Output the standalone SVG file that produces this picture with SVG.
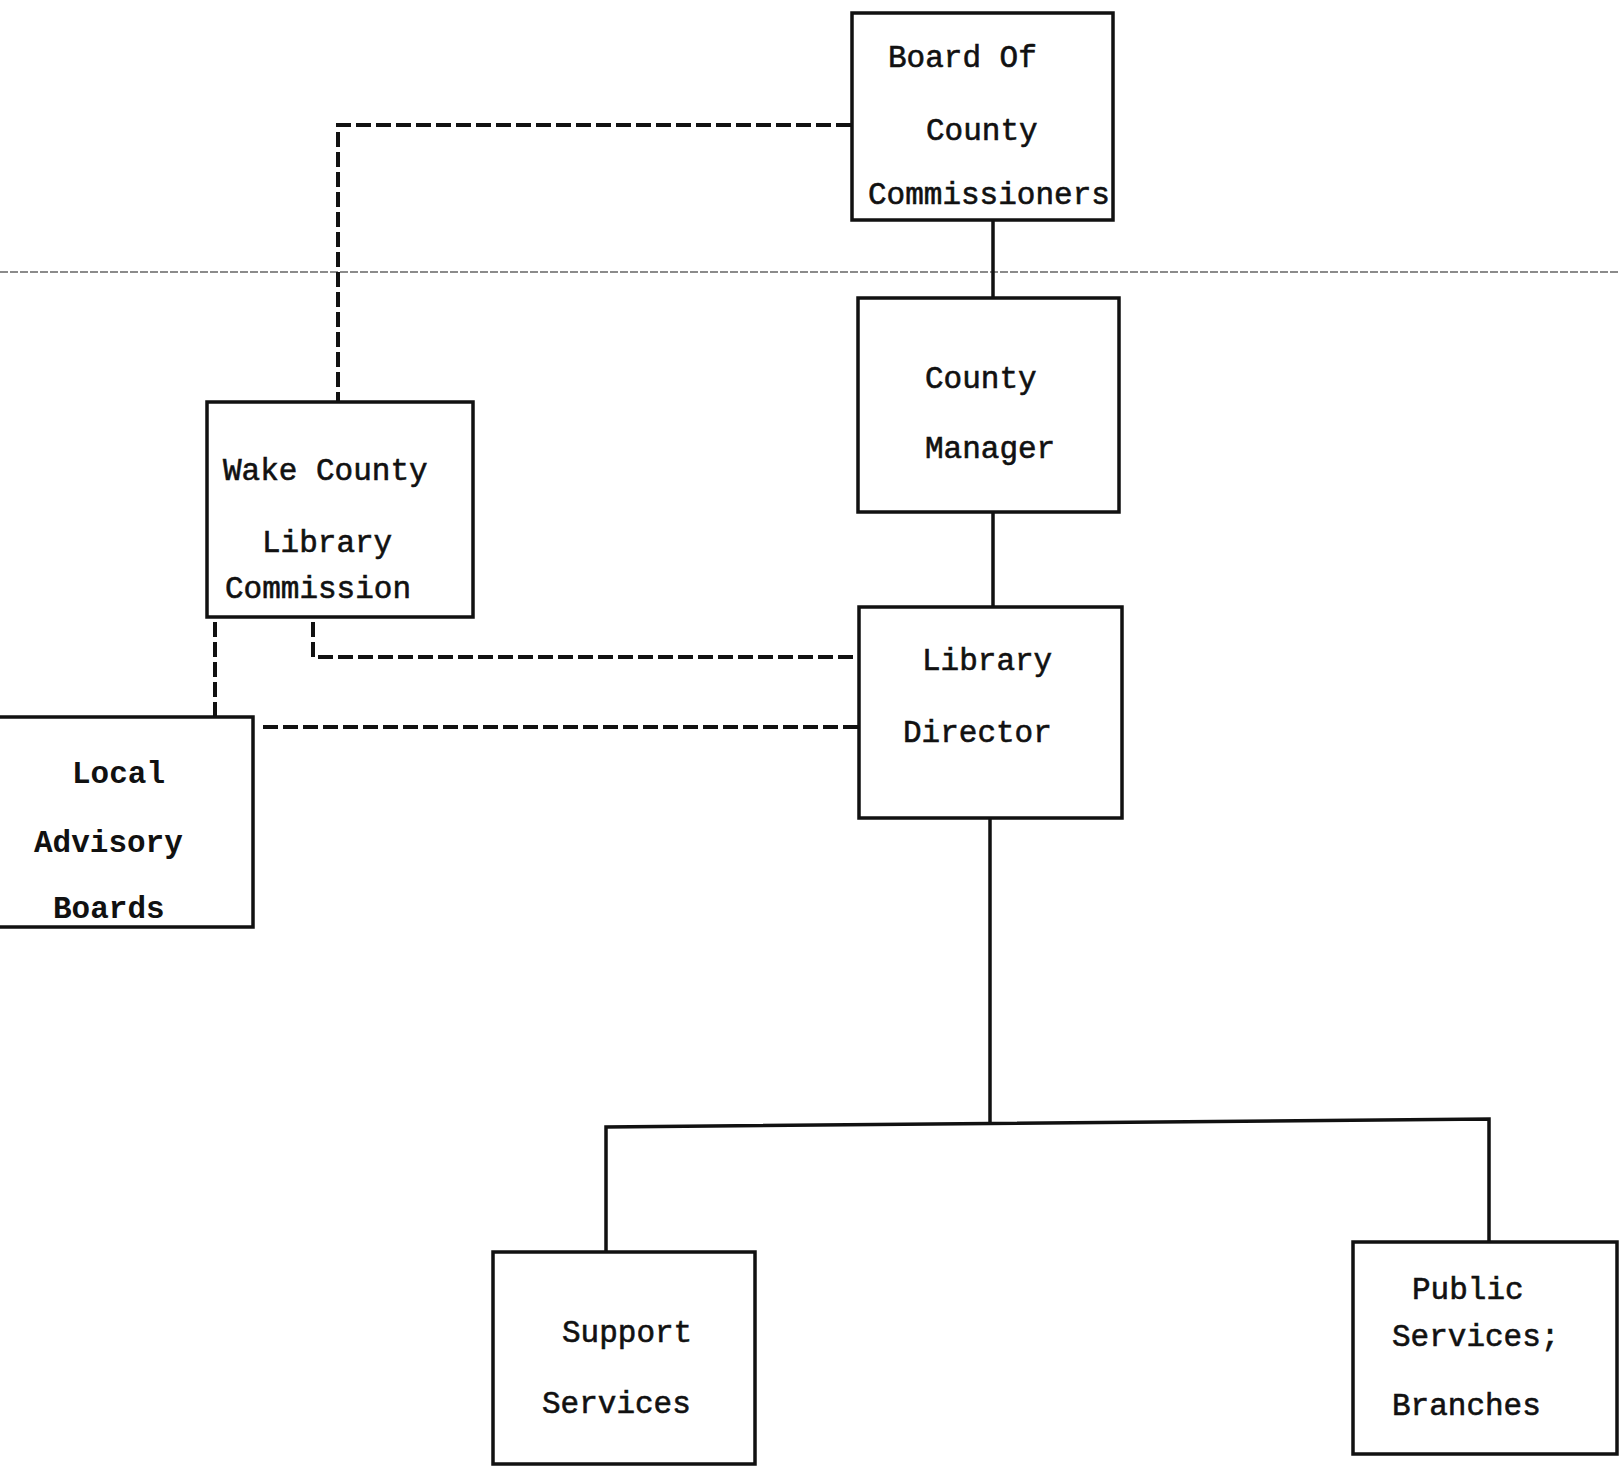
<svg xmlns="http://www.w3.org/2000/svg" width="1619" height="1467" viewBox="0 0 1619 1467">
<style>
.box{fill:#fff;stroke:#111;stroke-width:3.5}
.t{font-family:"Liberation Mono","Courier New",monospace;font-size:31px;fill:#111;stroke:#111;stroke-width:0.6}
.tb{font-family:"Liberation Mono","Courier New",monospace;font-size:31px;font-weight:bold;fill:#111}
.solid{fill:none;stroke:#111;stroke-width:3.5}
.dash{fill:none;stroke:#111;stroke-width:4;stroke-dasharray:15 5}
.fold{fill:none;stroke:#666;stroke-width:1.5;stroke-dasharray:8 2}
</style>
<rect width="1619" height="1467" fill="#fff"/>
<line class="fold" x1="0" y1="272" x2="1619" y2="272"/>
<g id="connectors">
<line class="solid" x1="993" y1="221" x2="993" y2="298"/>
<line class="solid" x1="993" y1="512" x2="993" y2="607"/>
<line class="solid" x1="990" y1="818" x2="990" y2="1124"/>
<polyline class="solid" points="606,1252 606,1127 1489,1119 1489,1242"/>
<polyline class="dash" points="851,125 338,125 338,402"/>
<line class="dash" x1="215" y1="622" x2="215" y2="717"/>
<polyline class="dash" points="313,622 313,657 859,657"/>
<line class="dash" x1="263" y1="727" x2="859" y2="727"/>
</g>
<g id="board">
<rect class="box" x="852" y="13" width="261" height="207"/>
<text class="t" x="888" y="67">Board Of</text>
<text class="t" x="926" y="140">County</text>
<text class="t" x="868" y="204">Commissioners</text>
</g>
<g id="manager">
<rect class="box" x="858" y="298" width="261" height="214"/>
<text class="t" x="925" y="388">County</text>
<text class="t" x="925" y="458">Manager</text>
</g>
<g id="commission">
<rect class="box" x="207" y="402" width="266" height="215"/>
<text class="t" x="223" y="480">Wake County</text>
<text class="t" x="262" y="552">Library</text>
<text class="t" x="225" y="598">Commission</text>
</g>
<g id="advisory">
<rect class="box" x="-5" y="717" width="258" height="210"/>
<text class="tb" x="72" y="783">Local</text>
<text class="tb" x="34" y="852">Advisory</text>
<text class="tb" x="53" y="918">Boards</text>
</g>
<g id="director">
<rect class="box" x="859" y="607" width="263" height="211"/>
<text class="t" x="922" y="670">Library</text>
<text class="t" x="903" y="742">Director</text>
</g>
<g id="support">
<rect class="box" x="493" y="1252" width="262" height="212"/>
<text class="t" x="562" y="1342">Support</text>
<text class="t" x="542" y="1413">Services</text>
</g>
<g id="public">
<rect class="box" x="1353" y="1242" width="264" height="212"/>
<text class="t" x="1412" y="1299">Public</text>
<text class="t" x="1392" y="1346">Services;</text>
<text class="t" x="1392" y="1415">Branches</text>
</g>
</svg>
